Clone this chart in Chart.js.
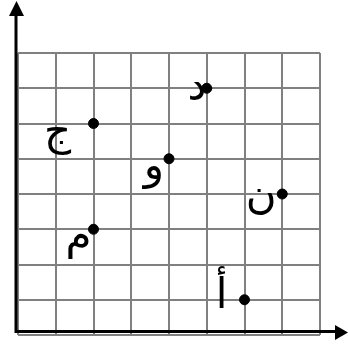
<!DOCTYPE html>
<html>
<head>
<meta charset="utf-8">
<script src="https://cdn.jsdelivr.net/npm/chart.js@4"></script>
<style>
  html, body { margin: 0; padding: 0; background: #fff; }
  canvas { display: block; }
</style>
</head>
<body>
<canvas id="chart" width="348" height="344"></canvas>
<script>
// --- Dữ liệu các điểm trên lưới ---
const pointNames = ["أ", "ج", "د", "و", "م", "ن"];
const xValues = [6, 2, 5, 4, 2, 7];
const yValues = [1, 6, 7, 5, 3, 4];
const gridMin = 0;
const gridMax = 8;

// vị trí nhãn so với điểm (px)
const labelShift = [[-23, -3], [-36, 11], [-10, 1], [-15, 9], [-15, 9], [-21, 3]];

const points = xValues.map((x, i) => ({ x: x, y: yValues[i] }));

// vẽ trục đen có mũi tên + nhãn chữ
const arrowAxes = {
  id: "arrowAxes",
  afterDraw(chart) {
    const ctx = chart.ctx;
    ctx.save();
    ctx.strokeStyle = "#000";
    ctx.fillStyle = "#000";
    ctx.lineWidth = 3;
    ctx.beginPath();
    ctx.moveTo(16, 333);
    ctx.lineTo(16, 14);
    ctx.moveTo(15, 331.5);
    ctx.lineTo(337, 331.5);
    ctx.stroke();
    ctx.beginPath();
    ctx.moveTo(16.5, 1);
    ctx.lineTo(9, 16);
    ctx.lineTo(24, 16);
    ctx.closePath();
    ctx.fill();
    ctx.beginPath();
    ctx.moveTo(348, 332.5);
    ctx.lineTo(335, 325);
    ctx.lineTo(335, 340);
    ctx.closePath();
    ctx.fill();

    const meta = chart.getDatasetMeta(0);
    ctx.font = "42px 'DejaVu Sans'";
    ctx.textAlign = "center";
    ctx.textBaseline = "middle";
    meta.data.forEach((pt, i) => {
      ctx.fillText(pointNames[i], pt.x + labelShift[i][0], pt.y + labelShift[i][1]);
    });
    ctx.restore();
  }
};

new Chart(document.getElementById("chart"), {
  type: "scatter",
  data: {
    datasets: [{
      data: points,
      backgroundColor: "#000",
      borderColor: "#000",
      pointRadius: 5,
      pointHoverRadius: 5
    }]
  },
  options: {
    responsive: false,
    animation: false,
    layout: { padding: { left: 18, top: 53, right: 28, bottom: 9 } },
    plugins: { legend: { display: false }, tooltip: { enabled: false } },
    scales: {
      x: {
        min: gridMin, max: gridMax,
        ticks: { display: false, stepSize: 1 },
        border: { display: false },
        grid: { color: "#808080", lineWidth: 2, drawTicks: false }
      },
      y: {
        min: gridMin, max: gridMax,
        ticks: { display: false, stepSize: 1 },
        border: { display: false },
        grid: { color: "#808080", lineWidth: 2, drawTicks: false }
      }
    }
  },
  plugins: [arrowAxes]
});
</script>
</body>
</html>
